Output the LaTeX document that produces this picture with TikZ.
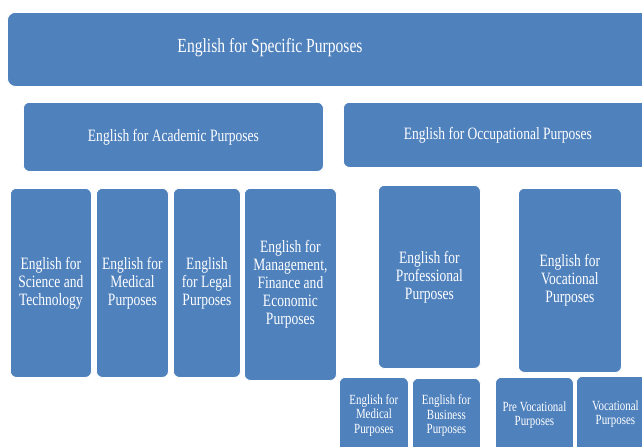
\documentclass[tikz,border=0pt]{standalone}
\usepackage{fontspec}
\setmainfont[FakeStretch=0.78]{Liberation Serif}
\definecolor{espblue}{RGB}{79,129,189}

\begin{document}
\begin{tikzpicture}[x=0.75pt,y=0.75pt,yscale=-1,xscale=1,
  blk/.style={draw=white,line width=0.6pt,fill=espblue,rounded corners=4.5pt,
    anchor=north west,inner sep=1pt,text=white,align=center,
    font=\fontsize{13}{13.5}\selectfont},
  smallblk/.style={blk,font=\fontsize{10.5}{10.8}\selectfont},
  lbl/.style={text=white,inner sep=0pt}]
\useasboundingbox (0,0) rectangle (642,446);
\clip (0,0) rectangle (642,446);
% top level
\node [blk,rounded corners=6pt,minimum width=489.75pt,minimum height=55.5pt] (esp) at (7,12) {};
\node [lbl,font=\fontsize{15}{16}\selectfont] (esptext) at (270,48) {English for Specific Purposes};
% second level
\node [blk,minimum width=225pt,minimum height=51.75pt] (eap) at (23,102) {English for Academic Purposes};
\node [blk,minimum width=231.75pt,minimum height=48.75pt] (eop) at (343,102) {English for Occupational Purposes};
% academic branch
\node [blk,minimum width=60.75pt,minimum height=141.75pt] (sci) at (10,188) {English for\\Science and\\Technology};
\node [blk,minimum width=54pt,minimum height=141.75pt] (medA) at (96,188) {English for\\Medical\\Purposes};
\node [blk,minimum width=50.25pt,minimum height=141.75pt] (legal) at (173,188) {English\\for Legal\\Purposes};
\node [blk,minimum width=69pt,minimum height=144pt] (mgmt) at (244,188) {English for\\Management,\\Finance and\\Economic\\Purposes};
% occupational branch
\node [blk,minimum width=76.5pt,minimum height=137.25pt] (prof) at (378,185) {English for\\Professional\\Purposes};
\node [blk,minimum width=77.25pt,minimum height=138pt] (voc) at (518,188) {English for\\Vocational\\Purposes};
% third level
\node [smallblk,minimum width=51.75pt,minimum height=57pt] (medP) at (339,377) {English for\\Medical\\Purposes};
\node [smallblk,minimum width=51pt,minimum height=56.25pt] (bus) at (412,378) {English for\\Business\\Purposes};
\node [smallblk,minimum width=58.5pt,minimum height=57pt] (prevoc) at (495,377) {Pre Vocational\\Purposes};
\node [smallblk,minimum width=58.5pt,minimum height=57pt] (vocs) at (576,376) {Vocational\\Purposes};
\end{tikzpicture}
\end{document}
